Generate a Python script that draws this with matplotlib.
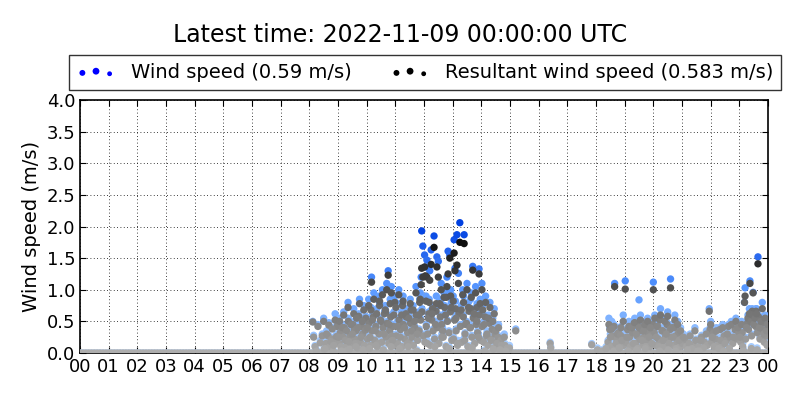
import numpy as np
import matplotlib
matplotlib.use('Agg')
import matplotlib.pyplot as plt
from matplotlib.colors import LinearSegmentedColormap, Normalize


# calm readings (0 m/s) through the whole day, hour of day
calm_t = [
    0.0, 0.1, 0.2, 0.3, 0.4, 0.5, 0.6, 0.7, 0.8, 0.9, 1.0, 1.1, 1.2, 1.3, 1.4, 1.5, 1.6, 1.7, 1.8, 1.9,
    2.0, 2.1, 2.2, 2.3, 2.4, 2.5, 2.6, 2.7, 2.8, 2.9, 3.0, 3.1, 3.2, 3.3, 3.4, 3.5, 3.6, 3.7, 3.8, 3.9,
    4.0, 4.1, 4.2, 4.3, 4.4, 4.5, 4.6, 4.7, 4.8, 4.9, 5.0, 5.1, 5.2, 5.3, 5.4, 5.5, 5.6, 5.7, 5.8, 5.9,
    6.0, 6.1, 6.2, 6.3, 6.4, 6.5, 6.6, 6.7, 6.8, 6.9, 7.0, 7.1, 7.2, 7.3, 7.4, 7.5, 7.6, 7.7, 7.8, 7.9,
    8.0, 8.1, 8.2, 8.3, 8.4, 8.5, 8.6, 8.7, 8.8, 8.9, 9.0, 9.1, 9.2, 9.3, 9.4, 9.5, 9.6, 9.7, 9.8, 9.9,
    10.0, 10.1, 10.2, 10.3, 10.4, 10.5, 10.6, 10.7, 10.8, 10.9, 11.0, 11.1, 11.2, 11.3, 11.4, 11.5, 11.6, 11.7, 11.8, 11.9,
    12.0, 12.1, 12.2, 12.3, 12.4, 12.5, 12.6, 12.7, 12.8, 12.9, 13.0, 13.1, 13.2, 13.3, 13.4, 13.5, 13.6, 13.7, 13.8, 13.9,
    14.0, 14.1, 14.2, 14.3, 14.4, 14.5, 14.6, 14.7, 14.8, 14.9, 15.0, 15.1, 15.2, 15.3, 15.4, 15.5, 15.6, 15.7, 15.8, 15.9,
    16.0, 16.1, 16.2, 16.3, 16.4, 16.5, 16.6, 16.7, 16.8, 16.9, 17.0, 17.1, 17.2, 17.3, 17.4, 17.5, 17.6, 17.7, 17.8, 17.9,
    18.0, 18.1, 18.2, 18.3, 18.4, 18.5, 18.6, 18.7, 18.8, 18.9, 19.0, 19.1, 19.2, 19.3, 19.4, 19.5, 19.6, 19.7, 19.8, 19.9,
    20.0, 20.1, 20.2, 20.3, 20.4, 20.5, 20.6, 20.7, 20.8, 20.9, 21.0, 21.1, 21.2, 21.3, 21.4, 21.5, 21.6, 21.7, 21.8, 21.9,
    22.0, 22.1, 22.2, 22.3, 22.4, 22.5, 22.6, 22.7, 22.8, 22.9, 23.0, 23.1, 23.2, 23.3, 23.4, 23.5, 23.6, 23.7, 23.8, 23.9,
    24.0,
]

# windy readings, hour of day (UTC)
time_h = [
    8.12, 8.15, 8.2, 8.25, 8.3, 8.38, 8.45, 8.5, 8.55, 8.6, 8.68, 8.75, 8.8, 8.85, 8.9, 8.95,
    9.02, 9.06, 9.1, 9.15, 9.2, 9.25, 9.3, 9.35, 9.4, 9.45, 9.5, 9.55, 9.6, 9.65, 9.7, 9.75, 9.8, 9.85, 9.9, 9.95,
    9.12, 9.38, 9.62, 9.88,
    10.02, 10.07, 10.12, 10.17, 10.2, 10.25, 10.3, 10.35, 10.4, 10.45, 10.5, 10.55, 10.6, 10.65, 10.7, 10.75,
    10.78, 10.82, 10.86, 10.9, 10.95, 10.98, 10.1, 10.33, 10.58, 10.85,
    11.02, 11.07, 11.12, 11.17, 11.22, 11.27, 11.32, 11.37, 11.42, 11.47, 11.52, 11.57, 11.62, 11.67, 11.72,
    11.77, 11.82, 11.87, 11.92, 11.96, 11.15, 11.45, 11.75, 11.9,
    12.02, 12.07, 12.1, 12.15, 12.2, 12.25, 12.3, 12.35, 12.4, 12.45, 12.5, 12.55, 12.6, 12.65, 12.7, 12.75,
    12.8, 12.84, 12.9, 12.95, 12.12, 12.38, 12.62, 12.88, 12.05, 12.28,
    13.02, 13.05, 13.08, 13.12, 13.15, 13.2, 13.25, 13.3, 13.35, 13.4, 13.45, 13.5, 13.55, 13.6, 13.65, 13.7,
    13.75, 13.8, 13.85, 13.92, 13.96, 13.18, 13.42, 13.68, 13.9,
    14.02, 14.05, 14.1, 14.15, 14.2, 14.25, 14.3, 14.35, 14.4, 14.45, 14.5, 14.55, 14.6, 14.7, 14.8, 14.9,
    14.98, 14.12, 14.42, 14.65, 14.85,
    15.2, 16.4, 16.42, 17.85, 18.05, 18.2, 18.35,
    18.45, 18.5, 18.55, 18.6, 18.65, 18.7, 18.75, 18.8, 18.85, 18.9, 18.95, 18.62, 18.82,
    19.02, 19.08, 19.15, 19.2, 19.25, 19.3, 19.35, 19.4, 19.45, 19.5, 19.55, 19.6, 19.65, 19.7, 19.75, 19.8,
    19.85, 19.9, 19.95, 19.12, 19.42, 19.72,
    20.0, 20.05, 20.1, 20.15, 20.2, 20.25, 20.3, 20.35, 20.4, 20.45, 20.5, 20.55, 20.6, 20.65, 20.7, 20.75,
    20.8, 20.85, 20.9, 20.95, 20.22, 20.52, 20.78,
    21.05, 21.15, 21.25, 21.35, 21.45, 21.55, 21.65, 21.75, 21.85, 21.95, 21.2, 21.6,
    22.0, 22.05, 22.12, 22.2, 22.28, 22.35, 22.42, 22.5, 22.58, 22.65, 22.72, 22.8, 22.88, 22.95, 22.45,
    23.02, 23.08, 23.12, 23.18, 23.2, 23.25, 23.3, 23.35, 23.37, 23.4, 23.45, 23.48, 23.5, 23.55, 23.6, 23.65,
    23.7, 23.75, 23.8, 23.85, 23.9, 23.95, 23.98, 23.15, 23.42, 23.62,
]

wind_speed = [
    0.5, 0.28, 0.12, 0.05, 0.45, 0.2, 0.3, 0.55, 0.1, 0.35, 0.48, 0.22, 0.4, 0.15, 0.62, 0.3,
    0.3, 0.55, 0.15, 0.45, 0.65, 0.25, 0.4, 0.8, 0.1, 0.5, 0.35, 0.7, 0.2, 0.6, 0.45, 0.85, 0.3, 0.55, 0.75, 0.4,
    0.05, 0.22, 0.12, 0.08,
    0.45, 0.85, 0.3, 1.2, 0.6, 0.95, 0.4, 0.7, 0.2, 0.9, 0.55, 1.0, 0.35, 0.75, 1.1, 1.3,
    0.5, 0.85, 1.05, 0.25, 0.65, 0.9, 0.1, 0.15, 0.08, 0.12,
    0.8, 0.5, 1.0, 0.3, 0.65, 0.9, 0.45, 0.7, 0.2, 0.6, 0.85, 0.4, 0.75, 0.55, 1.05,
    0.35, 0.65, 0.95, 1.93, 1.69, 0.1, 0.15, 0.05, 1.2,
    1.55, 0.9, 1.47, 0.6, 1.3, 1.63, 0.75, 1.85, 0.5, 1.52, 1.45, 0.85, 1.1, 0.4, 0.95, 0.65,
    1.2, 1.61, 1.55, 0.8, 0.2, 0.15, 0.3, 0.1, 1.36, 0.7,
    0.9, 1.79, 1.34, 0.6, 1.87, 1.26, 2.06, 0.75, 1.0, 1.87, 0.5, 1.1, 0.8, 0.45, 0.95, 1.37,
    0.7, 1.05, 0.55, 1.33, 0.85, 0.2, 0.25, 0.12, 0.3,
    1.1, 0.75, 0.5, 0.9, 0.35, 0.6, 0.8, 0.25, 0.55, 0.7, 0.4, 0.2, 0.45, 0.15, 0.3, 0.1,
    0.12, 0.05, 0.1, 0.08, 0.05,
    0.38, 0.17, 0.1, 0.15, 0.08, 0.05, 0.1,
    0.55, 0.3, 0.5, 0.15, 1.1, 0.2, 0.4, 0.1, 0.35, 0.25, 0.6, 0.05, 0.12,
    1.14, 0.3, 0.5, 0.15, 0.45, 0.2, 0.55, 0.35, 0.1, 0.84, 0.6, 0.25, 0.4, 0.5, 0.15, 0.55,
    0.3, 0.45, 0.2, 0.05, 0.08, 0.1,
    1.12, 0.6, 0.3, 0.5, 0.15, 0.7, 0.4, 0.25, 0.55, 0.35, 0.65, 0.2, 1.17, 0.45, 0.3, 0.6,
    0.1, 0.5, 0.25, 0.4, 0.05, 0.08, 0.05,
    0.3, 0.15, 0.2, 0.1, 0.4, 0.05, 0.25, 0.12, 0.35, 0.7, 0.08, 0.05,
    0.5, 0.3, 0.15, 0.4, 0.1, 0.25, 0.45, 0.2, 0.35, 0.1, 0.5, 0.3, 0.55, 0.45, 0.05,
    0.3, 0.5, 0.15, 0.8, 1.03, 0.45, 0.6, 0.7, 1.14, 0.55, 0.65, 0.96, 0.5, 0.6, 0.7, 1.52,
    0.45, 0.55, 0.8, 0.35, 0.6, 0.4, 0.5, 0.05, 0.1, 0.08,
]

resultant_speed = [
    0.49, 0.25, 0.1, 0.03, 0.42, 0.16, 0.27, 0.5, 0.07, 0.3, 0.44, 0.18, 0.38, 0.12, 0.52, 0.26,
    0.25, 0.5, 0.1, 0.4, 0.6, 0.2, 0.35, 0.72, 0.06, 0.45, 0.3, 0.62, 0.15, 0.55, 0.4, 0.78, 0.25, 0.5, 0.68, 0.36,
    0.03, 0.18, 0.1, 0.05,
    0.4, 0.75, 0.25, 1.12, 0.52, 0.85, 0.35, 0.62, 0.15, 0.82, 0.5, 0.92, 0.3, 0.68, 1.0, 1.23,
    0.45, 0.78, 0.95, 0.2, 0.6, 0.8, 0.07, 0.12, 0.05, 0.1,
    0.72, 0.42, 0.92, 0.25, 0.6, 0.82, 0.4, 0.62, 0.15, 0.55, 0.78, 0.35, 0.68, 0.5, 0.95,
    0.3, 0.6, 0.85, 1.34, 1.2, 0.07, 0.1, 0.03, 1.08,
    1.36, 0.82, 1.2, 0.55, 1.15, 1.4, 0.7, 1.67, 0.45, 1.36, 1.2, 0.78, 1.0, 0.35, 0.88, 0.6,
    1.05, 1.25, 1.5, 0.72, 0.15, 0.1, 0.25, 0.07, 1.22, 0.62,
    0.82, 1.58, 1.3, 0.55, 1.39, 1.1, 1.75, 0.68, 0.92, 1.73, 0.45, 1.0, 0.72, 0.4, 0.88, 1.31,
    0.62, 0.95, 0.5, 1.25, 0.78, 0.15, 0.2, 0.08, 0.25,
    1.0, 0.68, 0.45, 0.8, 0.3, 0.55, 0.72, 0.2, 0.5, 0.62, 0.35, 0.15, 0.4, 0.12, 0.25, 0.07,
    0.08, 0.03, 0.06, 0.05, 0.03,
    0.35, 0.15, 0.08, 0.13, 0.05, 0.03, 0.07,
    0.45, 0.25, 0.38, 0.1, 1.05, 0.15, 0.3, 0.08, 0.28, 0.2, 0.5, 0.03, 0.08,
    1.01, 0.25, 0.42, 0.1, 0.4, 0.15, 0.48, 0.3, 0.07, 0.4, 0.52, 0.2, 0.35, 0.45, 0.1, 0.5,
    0.25, 0.4, 0.15, 0.03, 0.05, 0.07,
    1.0, 0.55, 0.25, 0.42, 0.1, 0.6, 0.35, 0.2, 0.5, 0.3, 0.58, 0.15, 1.03, 0.4, 0.25, 0.52,
    0.07, 0.45, 0.2, 0.35, 0.03, 0.05, 0.03,
    0.25, 0.1, 0.15, 0.07, 0.35, 0.03, 0.2, 0.08, 0.3, 0.66, 0.05, 0.03,
    0.45, 0.25, 0.1, 0.35, 0.07, 0.2, 0.4, 0.15, 0.3, 0.07, 0.45, 0.25, 0.5, 0.4, 0.03,
    0.25, 0.45, 0.1, 0.8, 0.9, 0.4, 0.55, 0.62, 1.1, 0.5, 0.6, 0.95, 0.45, 0.55, 0.62, 1.41,
    0.4, 0.5, 0.7, 0.3, 0.55, 0.35, 0.45, 0.03, 0.07, 0.05,
]

# dense light-wind readings underneath
low_t = [
    8.52, 8.58, 8.65, 8.72, 8.78, 8.83, 8.92, 8.97,
    9.04, 9.08, 9.14, 9.18, 9.22, 9.28, 9.32, 9.36, 9.42, 9.48, 9.52, 9.58, 9.63, 9.68, 9.72, 9.78, 9.82,
    9.86, 9.92, 9.97, 9.27, 9.57,
    10.03, 10.08, 10.13, 10.18, 10.23, 10.28, 10.32, 10.37, 10.43, 10.48, 10.53, 10.57, 10.62, 10.68, 10.72,
    10.77, 10.8, 10.84, 10.88, 10.93, 10.97, 10.15, 10.45, 10.66,
    11.03, 11.08, 11.13, 11.18, 11.23, 11.28, 11.33, 11.38, 11.43, 11.48, 11.53, 11.58, 11.63, 11.68, 11.73,
    11.78, 11.83, 11.88, 11.93, 11.98, 11.25, 11.55, 11.85,
    12.03, 12.08, 12.13, 12.17, 12.22, 12.27, 12.32, 12.37, 12.42, 12.47, 12.52, 12.57, 12.62, 12.67, 12.72,
    12.77, 12.82, 12.87, 12.92, 12.97, 12.18, 12.43, 12.58, 12.78, 12.93,
    13.03, 13.07, 13.12, 13.17, 13.22, 13.27, 13.32, 13.37, 13.43, 13.48, 13.53, 13.57, 13.62, 13.67, 13.72,
    13.77, 13.82, 13.87, 13.93, 13.97, 13.1, 13.38, 13.63, 13.85,
    14.03, 14.08, 14.13, 14.18, 14.23, 14.28, 14.33, 14.38, 14.43, 14.48, 14.53, 14.58, 14.63, 14.68, 14.75,
    14.82, 14.88, 14.95,
    18.42, 18.48, 18.53, 18.57, 18.63, 18.68, 18.72, 18.78, 18.83, 18.87, 18.92, 18.97,
    19.05, 19.1, 19.17, 19.22, 19.28, 19.33, 19.38, 19.43, 19.48, 19.53, 19.58, 19.63, 19.68, 19.73, 19.78,
    19.83, 19.88, 19.93, 19.98,
    20.03, 20.08, 20.13, 20.18, 20.23, 20.28, 20.33, 20.38, 20.43, 20.48, 20.53, 20.58, 20.63, 20.68, 20.73,
    20.78, 20.83, 20.88, 20.93, 20.98,
    21.02, 21.1, 21.18, 21.28, 21.38, 21.48, 21.58, 21.68, 21.78, 21.88, 21.98,
    22.03, 22.1, 22.17, 22.25, 22.32, 22.38, 22.47, 22.55, 22.62, 22.68, 22.77, 22.85, 22.92, 22.98,
    23.05, 23.1, 23.22, 23.28, 23.32, 23.38, 23.43, 23.47, 23.52, 23.57, 23.58, 23.63, 23.67, 23.72, 23.77,
    23.82, 23.87, 23.92, 23.97, 23.4, 23.45, 23.5, 23.55,
]

low_ws = [
    0.08, 0.18, 0.3, 0.12, 0.25, 0.05, 0.2, 0.45,
    0.18, 0.35, 0.08, 0.28, 0.42, 0.12, 0.22, 0.55, 0.3, 0.15, 0.48, 0.25, 0.38, 0.1, 0.62, 0.2, 0.45,
    0.32, 0.15, 0.58, 0.05, 0.4,
    0.25, 0.5, 0.15, 0.38, 0.6, 0.22, 0.45, 0.12, 0.32, 0.55, 0.2, 0.42, 0.65, 0.28, 0.5,
    0.18, 0.38, 0.6, 0.3, 0.45, 0.15, 0.72, 0.8, 0.68,
    0.3, 0.18, 0.55, 0.4, 0.12, 0.48, 0.25, 0.6, 0.35, 0.2, 0.5, 0.28, 0.15, 0.42, 0.62,
    0.22, 0.38, 0.55, 0.7, 0.3, 0.8, 0.72, 0.85,
    0.2, 0.45, 0.32, 0.65, 0.15, 0.55, 0.38, 0.25, 0.7, 0.42, 0.18, 0.6, 0.48, 0.28, 0.75,
    0.12, 0.52, 0.35, 0.68, 0.22, 0.85, 0.9, 0.82, 0.95, 1.0,
    0.25, 0.55, 0.38, 0.15, 0.65, 0.45, 0.2, 0.6, 0.32, 0.5, 0.12, 0.7, 0.42, 0.28, 0.58,
    0.18, 0.48, 0.35, 0.62, 0.22, 0.82, 0.9, 0.85, 0.78,
    0.45, 0.2, 0.6, 0.3, 0.15, 0.5, 0.25, 0.4, 0.1, 0.32, 0.2, 0.28, 0.12, 0.22, 0.08,
    0.15, 0.1, 0.05,
    0.2, 0.4, 0.12, 0.3, 0.45, 0.1, 0.25, 0.35, 0.18, 0.42, 0.28, 0.15,
    0.2, 0.4, 0.28, 0.12, 0.35, 0.5, 0.18, 0.3, 0.45, 0.25, 0.38, 0.15, 0.28, 0.42, 0.22,
    0.35, 0.12, 0.3, 0.48,
    0.35, 0.15, 0.45, 0.25, 0.55, 0.2, 0.38, 0.12, 0.3, 0.48, 0.22, 0.4, 0.28, 0.15, 0.42,
    0.3, 0.2, 0.35, 0.12, 0.25,
    0.18, 0.25, 0.1, 0.3, 0.15, 0.22, 0.12, 0.28, 0.2, 0.15, 0.4,
    0.2, 0.35, 0.25, 0.15, 0.4, 0.12, 0.3, 0.22, 0.45, 0.28, 0.18, 0.4, 0.25, 0.35,
    0.2, 0.35, 0.25, 0.5, 0.4, 0.6, 0.3, 0.55, 0.65, 0.45, 0.7, 0.35, 0.6, 0.25, 0.5,
    0.4, 0.2, 0.3, 0.15, 0.62, 0.7, 0.58, 0.68,
]

low_rs = [
    0.06, 0.15, 0.27, 0.1, 0.22, 0.03, 0.17, 0.42,
    0.15, 0.32, 0.06, 0.25, 0.4, 0.1, 0.2, 0.5, 0.27, 0.12, 0.45, 0.22, 0.35, 0.08, 0.58, 0.17, 0.42,
    0.3, 0.12, 0.55, 0.03, 0.37,
    0.22, 0.47, 0.12, 0.35, 0.57, 0.2, 0.42, 0.1, 0.3, 0.52, 0.17, 0.4, 0.62, 0.25, 0.47,
    0.15, 0.35, 0.57, 0.27, 0.42, 0.12, 0.68, 0.75, 0.64,
    0.27, 0.15, 0.52, 0.37, 0.1, 0.45, 0.22, 0.57, 0.32, 0.17, 0.47, 0.25, 0.12, 0.4, 0.6,
    0.2, 0.35, 0.52, 0.65, 0.27, 0.75, 0.68, 0.8,
    0.17, 0.42, 0.3, 0.62, 0.12, 0.52, 0.35, 0.22, 0.66, 0.4, 0.15, 0.57, 0.45, 0.25, 0.72,
    0.1, 0.5, 0.32, 0.65, 0.2, 0.8, 0.78, 0.75, 0.88, 0.9,
    0.22, 0.52, 0.35, 0.12, 0.62, 0.42, 0.17, 0.57, 0.3, 0.47, 0.1, 0.66, 0.4, 0.25, 0.55,
    0.15, 0.45, 0.32, 0.6, 0.2, 0.7, 0.8, 0.7, 0.72,
    0.42, 0.17, 0.57, 0.27, 0.12, 0.47, 0.22, 0.37, 0.08, 0.3, 0.17, 0.25, 0.1, 0.2, 0.06,
    0.12, 0.07, 0.03,
    0.17, 0.37, 0.1, 0.27, 0.42, 0.08, 0.22, 0.32, 0.15, 0.4, 0.25, 0.12,
    0.17, 0.37, 0.25, 0.1, 0.32, 0.47, 0.15, 0.27, 0.42, 0.22, 0.35, 0.12, 0.25, 0.4, 0.2,
    0.32, 0.1, 0.27, 0.45,
    0.32, 0.12, 0.42, 0.22, 0.52, 0.17, 0.35, 0.1, 0.27, 0.45, 0.2, 0.37, 0.25, 0.12, 0.4,
    0.27, 0.17, 0.32, 0.1, 0.22,
    0.15, 0.22, 0.08, 0.27, 0.12, 0.2, 0.1, 0.25, 0.17, 0.12, 0.37,
    0.17, 0.32, 0.22, 0.12, 0.37, 0.1, 0.27, 0.2, 0.42, 0.25, 0.15, 0.37, 0.22, 0.32,
    0.17, 0.32, 0.22, 0.47, 0.37, 0.57, 0.27, 0.52, 0.62, 0.42, 0.66, 0.32, 0.57, 0.22, 0.47,
    0.37, 0.17, 0.27, 0.12, 0.6, 0.66, 0.55, 0.65,
]

mean_ws = 0.59
mean_rws = 0.583
hour_labels = ['%02d' % (h % 24) for h in range(25)]

blue_cmap = LinearSegmentedColormap.from_list(
    'ws', [(0.68, 0.82, 1.0), (0.35, 0.6, 1.0), (0.0, 0.25, 0.88)])
ws_norm = Normalize(vmin=0.0, vmax=2.0)
gray_norm = Normalize(vmin=-0.9, vmax=1.9)

fig = plt.figure(figsize=(8, 4), dpi=100)
ax = fig.add_axes([0.1, 0.1175, 0.86, 0.6325])

t_all = np.array(calm_t + low_t + time_h)
ws_all = np.array([0.0] * len(calm_t) + low_ws + wind_speed)
rs_all = np.array([0.0] * len(calm_t) + low_rs + resultant_speed)

ax.scatter(t_all, ws_all, c=ws_all, cmap=blue_cmap, norm=ws_norm, s=28,
           linewidths=0, zorder=3)
ax.scatter(t_all, rs_all, c=rs_all, cmap='gray_r', norm=gray_norm, s=28,
           linewidths=0, zorder=4)

# legend proxies
h1 = ax.scatter([], [], s=14, color='b', linewidths=0)
h1.set_sizes([16, 24, 12])
h2 = ax.scatter([], [], s=14, color='k', linewidths=0)
h2.set_sizes([16, 24, 12])
leg = fig.legend([h1, h2],
                 ['Wind speed (%.2f m/s)' % mean_ws,
                  'Resultant wind speed (%.3f m/s)' % mean_rws],
                 loc='center', ncol=2, scatterpoints=3,
                 bbox_to_anchor=(425 / 800, 1 - 72.5 / 400),
                 fancybox=False, fontsize=14, borderaxespad=0)
leg.get_frame().set_edgecolor('k')
leg.get_frame().set_linewidth(1.0)

ax.set_xlim(0, 24)
ax.set_ylim(0, 4)
ax.set_xticks(range(25))
ax.set_xticklabels(hour_labels)
ax.set_yticks(np.arange(0, 4.01, 0.5))
ax.tick_params(direction='in', top=True, right=True, labelsize=13, length=4)
ax.grid(True, linestyle=(0, (1, 3)), color='k', linewidth=0.6)
ax.set_axisbelow(False)
for sp in ax.spines.values():
    sp.set_linewidth(1.2)
ax.set_ylabel('Wind speed (m/s)', fontsize=14)

fig.text(0.5, 1 - 35 / 400, 'Latest time: 2022-11-09 00:00:00 UTC',
         ha='center', va='center', fontsize=17)

fig.savefig('out.png', dpi=100)
